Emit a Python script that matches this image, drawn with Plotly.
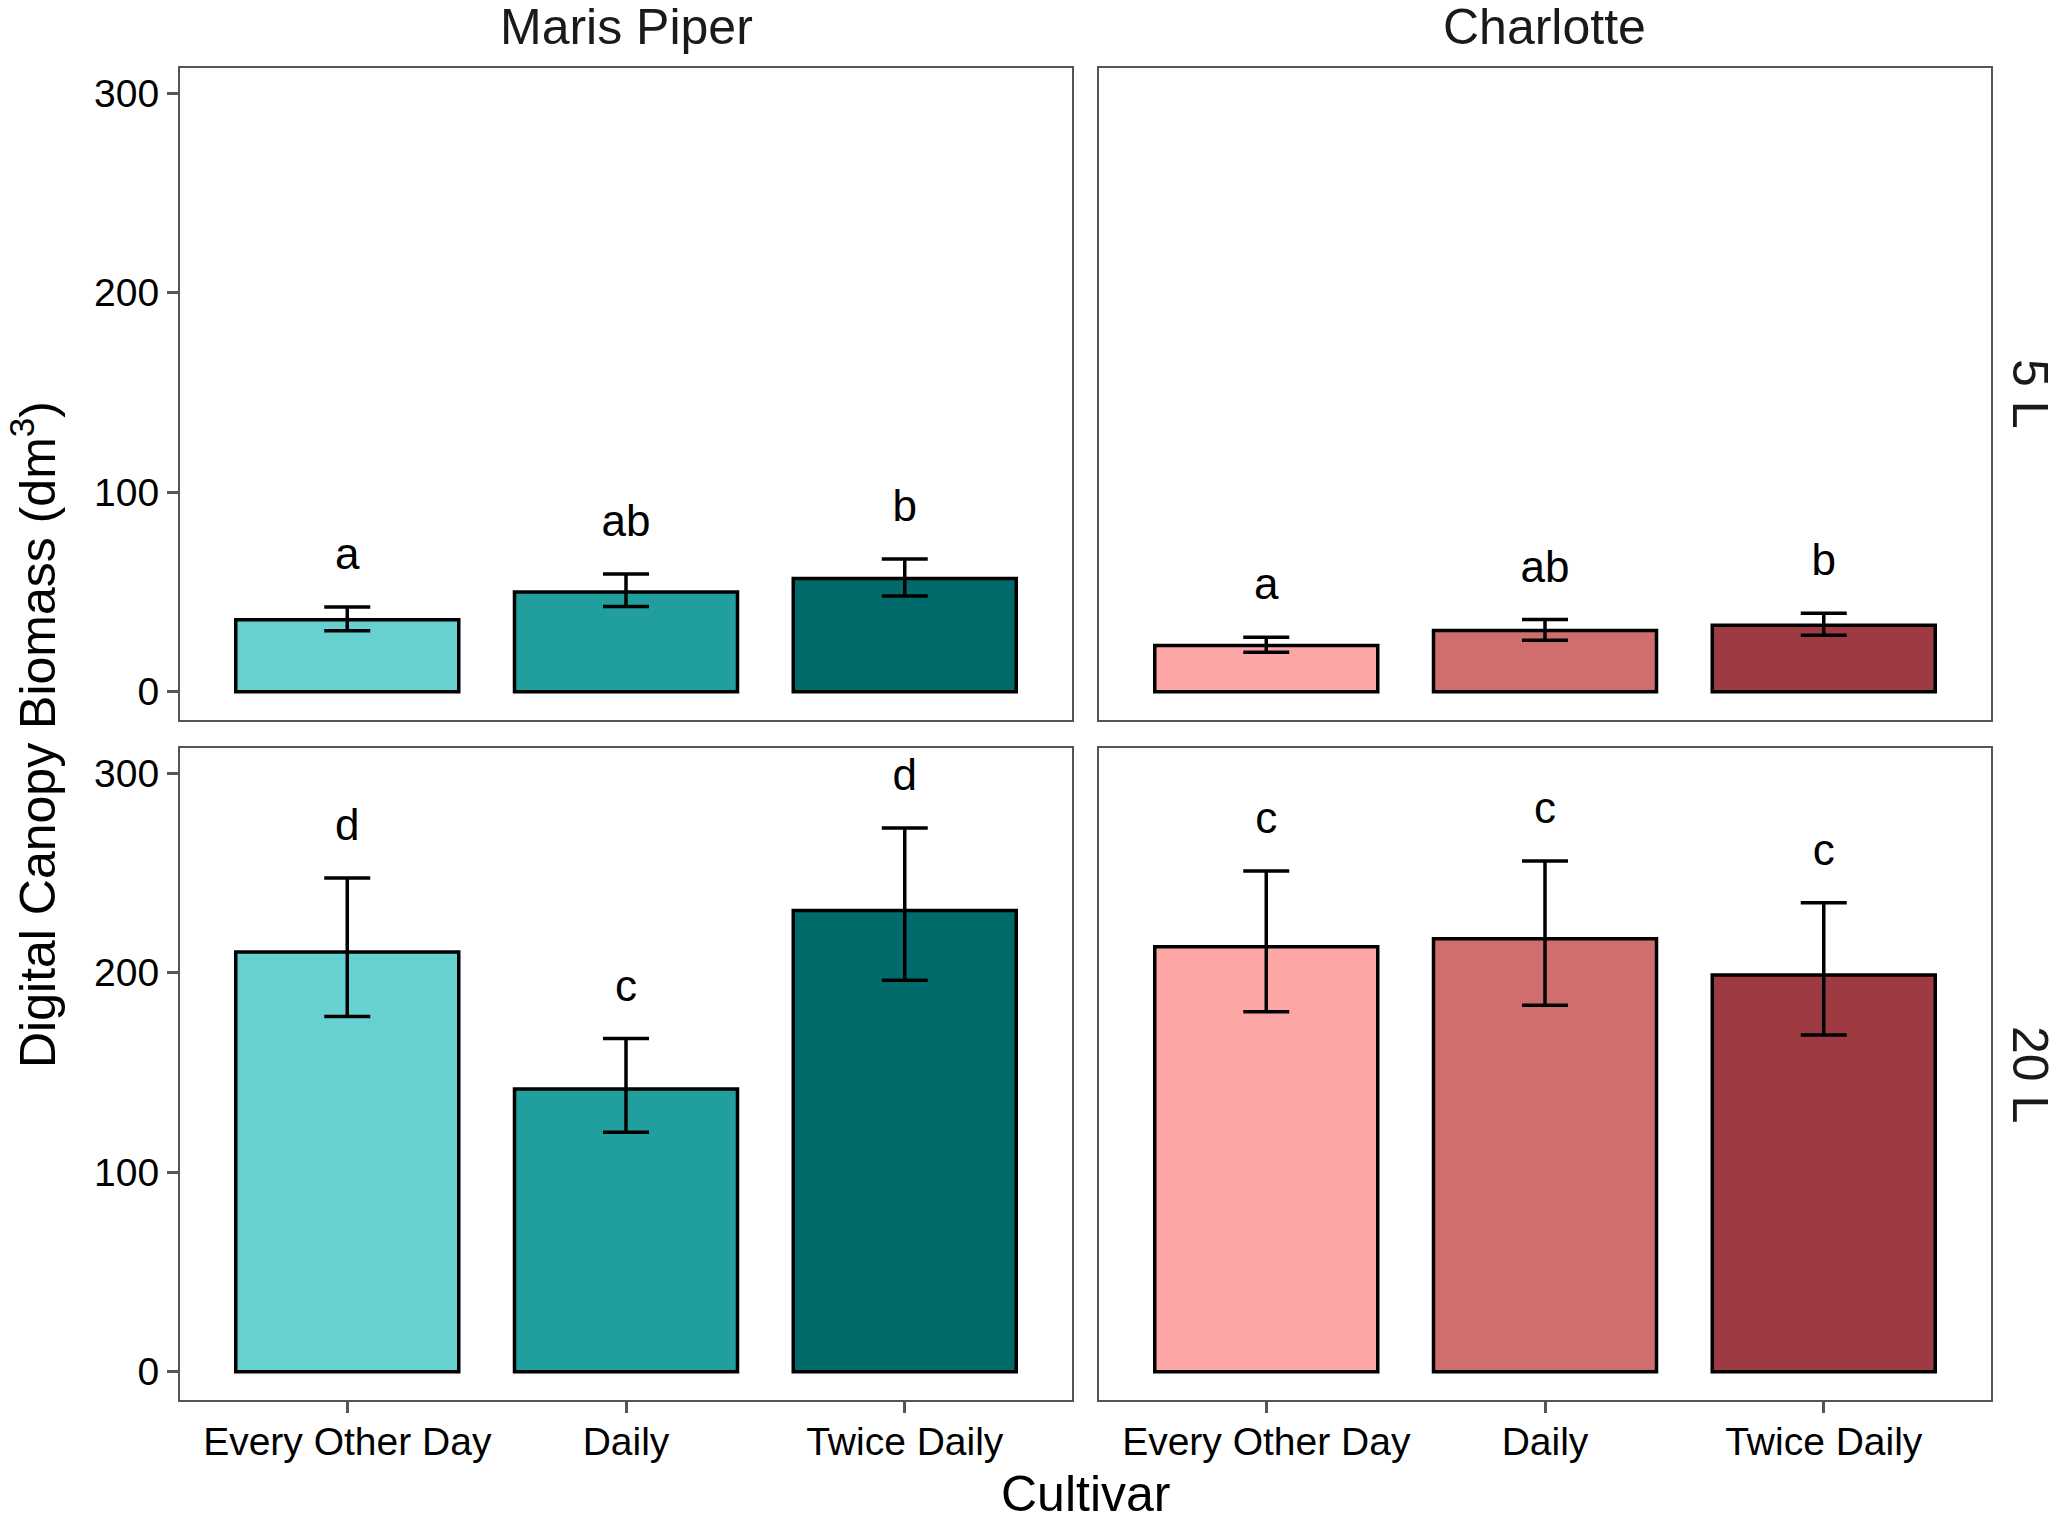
import plotly.graph_objects as go
from plotly.subplots import make_subplots

# treatment levels and cultivars
schedules = ["Every Other Day", "Daily", "Twice Daily"]
cultivars = ["Maris Piper", "Charlotte"]
pot_sizes = ["5 L", "20 L"]

# mean digital canopy biomass (dm3) with lower / upper error limits
mp_5l = [36, 50, 56.7]
mp_5l_lo = [30.5, 42.7, 48]
mp_5l_hi = [42.5, 59, 66.5]
mp_5l_let = ["a", "ab", "b"]

ch_5l = [23.2, 30.7, 33.3]
ch_5l_lo = [19.7, 25.8, 28.3]
ch_5l_hi = [27.3, 36.2, 39.3]
ch_5l_let = ["a", "ab", "b"]

mp_20l = [210.3, 141.7, 231.2]
mp_20l_lo = [178, 120, 196.2]
mp_20l_hi = [247.5, 167, 272.5]
mp_20l_let = ["d", "c", "d"]

ch_20l = [213, 217, 198.8]
ch_20l_lo = [180.4, 183.6, 168.8]
ch_20l_hi = [251, 256, 235]
ch_20l_let = ["c", "c", "c"]

mp_colors = ["#67D0D0", "#219E9E", "#006B6A"]
ch_colors = ["#FCA7A6", "#D06E6E", "#9E3A42"]

FONT = "Liberation Sans, Arial, Helvetica, sans-serif"
W, H = 2059, 1518

fig = make_subplots(rows=2, cols=2)

panels = [
    (1, 1, mp_5l, mp_5l_lo, mp_5l_hi, mp_5l_let, mp_colors),
    (1, 2, ch_5l, ch_5l_lo, ch_5l_hi, ch_5l_let, ch_colors),
    (2, 1, mp_20l, mp_20l_lo, mp_20l_hi, mp_20l_let, mp_colors),
    (2, 2, ch_20l, ch_20l_lo, ch_20l_hi, ch_20l_let, ch_colors),
]

for r, c, mean, lo, hi, let, cols in panels:
    fig.add_trace(go.Bar(
        x=schedules, y=mean,
        marker=dict(color=cols, line=dict(color="black", width=3.5)),
        error_y=dict(type="data", symmetric=False,
                     array=[h - m for h, m in zip(hi, mean)],
                     arrayminus=[m - l for m, l in zip(mean, lo)],
                     color="black", thickness=3.5, width=23),
        showlegend=False,
    ), row=r, col=c)
    # significance letters sit just above the upper error bar
    fig.add_trace(go.Scatter(
        x=schedules, y=[h + 24.5 for h in hi], text=let,
        mode="text", textposition="middle center",
        textfont=dict(family=FONT, size=44, color="black"),
        showlegend=False, hoverinfo="skip",
    ), row=r, col=c)

# panel placement (paper coords)
xdom = [[180 / W, 1072 / W], [1099 / W, 1991 / W]]
ydom = [[1 - 720 / H, 1 - 68 / H], [1 - 1400 / H, 1 - 748 / H]]

for r in (1, 2):
    for c in (1, 2):
        fig.update_xaxes(
            domain=xdom[c - 1], range=[-0.6, 2.6],
            showline=True, mirror=True, linecolor="#555555", linewidth=2,
            showgrid=False, zeroline=False,
            ticks="outside" if r == 2 else "", ticklen=11, tickwidth=3,
            tickcolor="#555555", showticklabels=(r == 2),
            ticklabelstandoff=-5,
            tickfont=dict(family=FONT, size=39, color="black"),
            row=r, col=c)
        fig.update_yaxes(
            domain=ydom[r - 1], range=[-14.2, 312.6],
            showline=True, mirror=True, linecolor="#555555", linewidth=2,
            showgrid=False, zeroline=False,
            tickvals=[0, 100, 200, 300],
            ticks="outside" if c == 1 else "", ticklen=11, tickwidth=3,
            tickcolor="#555555", showticklabels=(c == 1),
            tickfont=dict(family=FONT, size=39, color="black"),
            row=r, col=c)

txt = dict(xref="paper", yref="paper", xanchor="center", yanchor="middle",
           showarrow=False)
annotations = []
for i, name in enumerate(cultivars):
    annotations.append(dict(
        text=name, x=sum(xdom[i]) / 2, y=1 - 27 / H,
        font=dict(family=FONT, size=50, color="#1a1a1a"), **txt))
for i, name in enumerate(pot_sizes):
    annotations.append(dict(
        text=name, x=2030 / W, y=sum(ydom[i]) / 2, textangle=90,
        font=dict(family=FONT, size=50, color="#1a1a1a"), **txt))
annotations.append(dict(
    text="Cultivar", x=1085 / W, y=1 - 1494 / H,
    font=dict(family=FONT, size=50, color="black"), **txt))
annotations.append(dict(
    text="Digital Canopy Biomass (dm<sup>3</sup>)", x=34 / W, y=1 - 735 / H,
    textangle=-90, font=dict(family=FONT, size=50, color="black"), **txt))

fig.update_layout(
    width=W, height=H,
    margin=dict(l=0, r=0, t=0, b=0),
    plot_bgcolor="white", paper_bgcolor="white",
    bargap=0.2,
    annotations=annotations,
    font=dict(family=FONT),
)

fig.write_html("out.html", config={"displayModeBar": False},
               post_script="document.body.style.margin='0';")
